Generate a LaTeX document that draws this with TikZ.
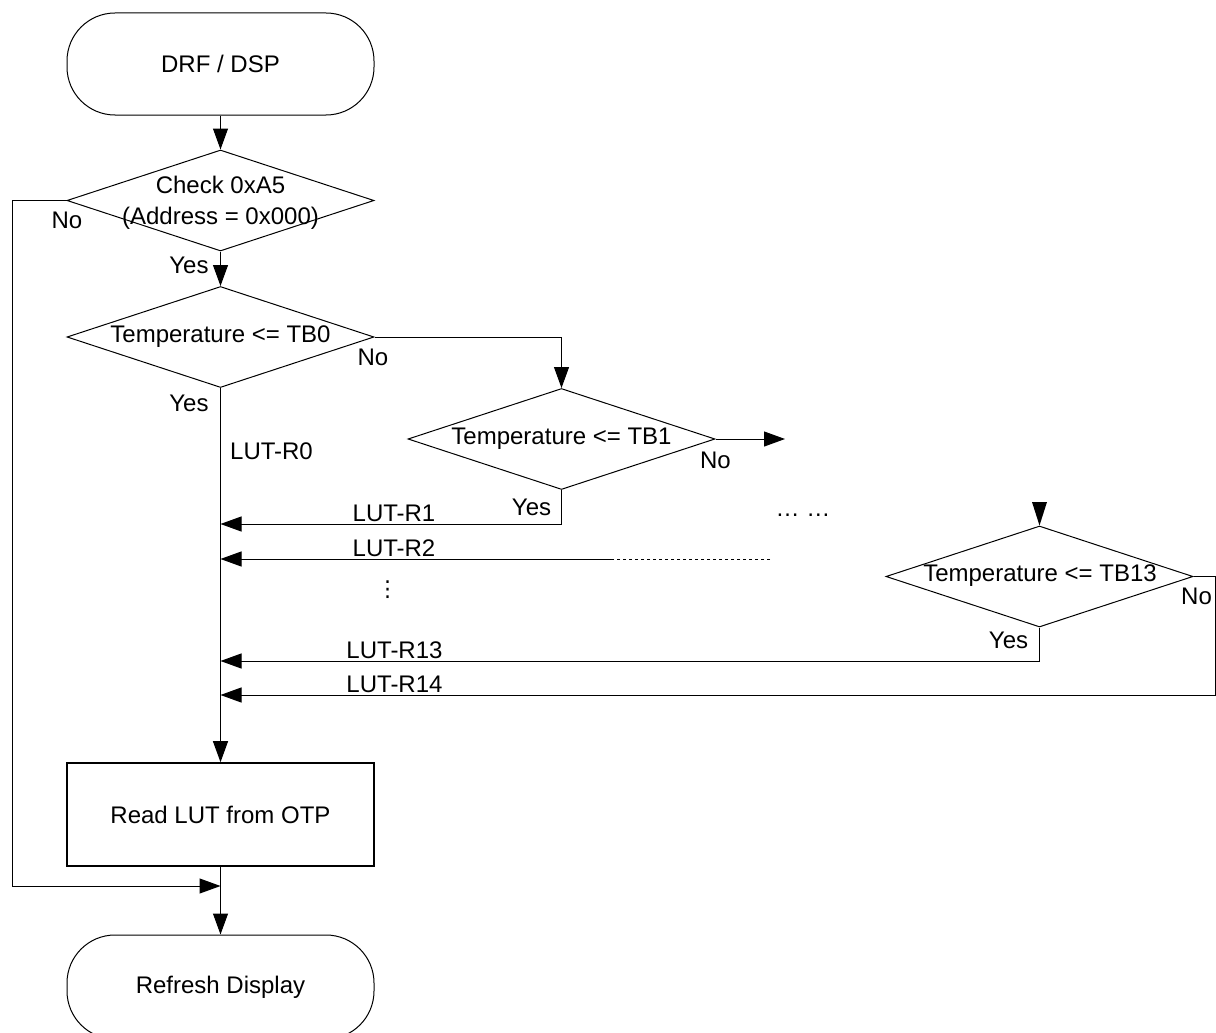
\documentclass[tikz,border=0pt]{standalone}
\usepackage{fontspec}
\setmainfont{Liberation Sans}
\newfontfamily\dejavu{DejaVu Sans}
\usetikzlibrary{arrows.meta,shapes.geometric}
\begin{document}
\begin{tikzpicture}[x=1pt,y=-1pt,
  every node/.style={font=\fontsize{24}{31}\selectfont},
  line/.style={line width=1pt},
  arr/.style={line width=1pt,-{Triangle[length=21pt,width=15pt]}},
  term/.style={draw,line width=1pt,rectangle,rounded corners=48pt,minimum width=307pt,minimum height=102pt,inner sep=0pt},
  dia/.style={draw,line width=1pt,diamond,minimum width=307pt,minimum height=101pt,inner sep=0pt},
  proc/.style={draw,line width=1.6pt,rectangle,minimum width=307pt,minimum height=103pt,inner sep=0pt},
  lbl/.style={inner sep=0pt}]
\clip (0,0) rectangle (1216,1033);

% main nodes
\node[term] (start) at (220.5,64) {DRF / DSP};
\node[dia] (d1) at (220.5,200.5) {};
\node[lbl,align=center] (d1t) at (220.5,203) {Check 0xA5\\(Address = 0x000)};
\node[dia] (d2) at (220.5,337) {};
\node[lbl] (d2t) at (220.5,337) {Temperature <= TB0};
\node[dia] (d3) at (561.5,439) {};
\node[lbl] (d3t) at (561.5,439) {Temperature <= TB1};
\node[dia] (d4) at (1039.5,576.5) {};
\node[lbl] (d4t) at (1040,576) {Temperature <= TB13};
\node[proc] (box) at (220.5,814.5) {Read LUT from OTP};
\node[term,minimum height=104pt] (end) at (220.5,987) {Refresh Display};

% helper coordinates
\coordinate (j) at (220.5,886);
\coordinate (lft) at (12,200.5);
\coordinate (lfb) at (12,886);
\coordinate (r1) at (220.5,524);
\coordinate (r2) at (220.5,559);
\coordinate (r2s) at (612,559);
\coordinate (r2d) at (770,559);
\coordinate (r13) at (220.5,661);
\coordinate (r14) at (220.5,695);
\coordinate (rt) at (1215.5,576.5);
\coordinate (rb) at (1215.5,695);
\coordinate (d3o) at (785,439);
\coordinate (d4i) at (1039.5,502);

% connectors
\draw[arr] (start.south) -- (d1.north);
\draw[arr] (d1.south) -- (d2.north);
\draw[arr] (d1.west) -- (lft) -- (lfb) -- (j);
\draw[arr] (d2.east) -| (d3.north);
\draw[arr] (d3.east) -- (d3o);
\draw[arr] (d3.south) |- (r1);
\draw[arr] (r2s) -- (r2);
\draw[line,dash pattern=on 3.5pt off 2.5pt] (r2d) -- (r2s);
\fill[line width=1pt,line join=miter] (d4i) ++(-7.5,0) -- ++(15,0) -- (d4.north) -- cycle;
\draw[arr] (d4.south) |- (r13);
\draw[arr] (d4.east) -- (rt) -- (rb) -- (r14);
\draw[arr] (d2.south) -- (box.north);
\draw[line] (box.south) -- (j);
\draw[arr] (j) -- (end.north);

% labels
\node[lbl] (n1) at (67,220) {No};
\node[lbl] (y1) at (189,265) {Yes};
\node[lbl] (n2) at (373,357) {No};
\node[lbl] (y2) at (189,403) {Yes};
\node[lbl] (l0) at (271.5,451) {LUT-R0};
\node[lbl] (n3) at (715.5,460) {No};
\node[lbl] (y3) at (531.5,507) {Yes};
\node[lbl] (l1) at (394,513) {LUT-R1};
\node[lbl] (l2) at (394,548) {LUT-R2};
\node[lbl] (el) at (803,515) {… …};
\node[lbl,font=\dejavu\fontsize{22}{22}\selectfont] (vd) at (387.5,590) {⋮};
\node[lbl] (n4) at (1196.5,596) {No};
\node[lbl] (y4) at (1008.5,640) {Yes};
\node[lbl] (l13) at (394.5,650) {LUT-R13};
\node[lbl] (l14) at (394.5,684) {LUT-R14};
\end{tikzpicture}
\end{document}
